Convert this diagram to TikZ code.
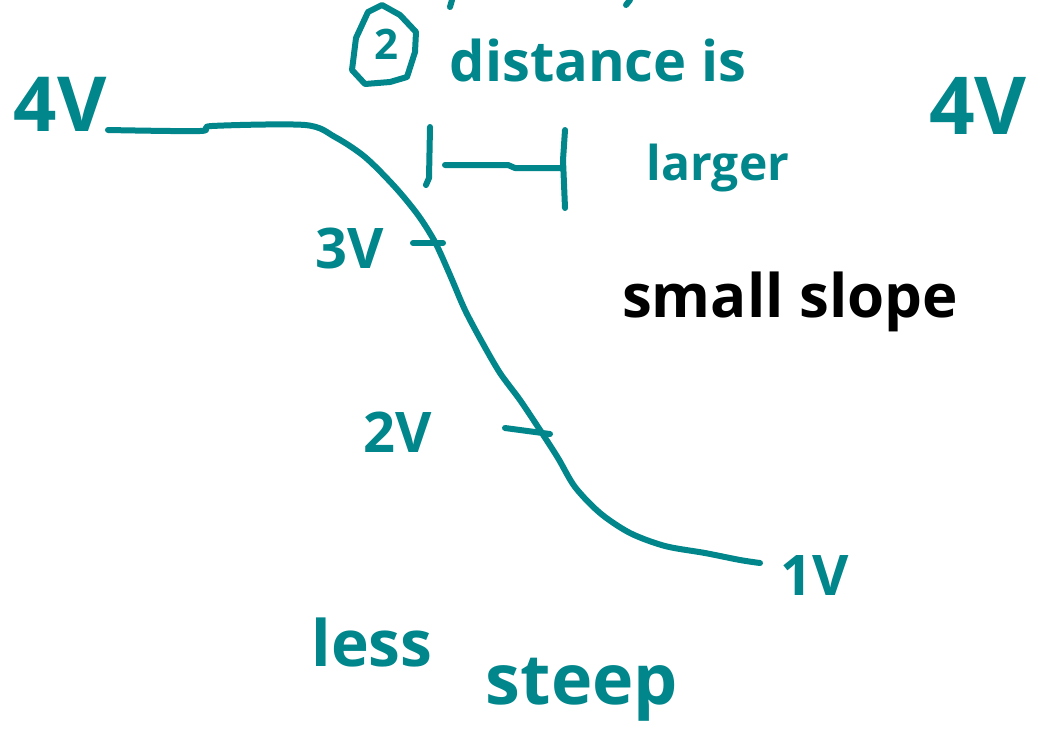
\documentclass[tikz,border=0pt]{standalone}
\usepackage{fontspec}
\setmainfont{Open Sans}
\definecolor{ink}{HTML}{00868B}
\begin{document}
\begin{tikzpicture}[x=1pt,y=-1pt,
  pen/.style={draw=ink,line width=6pt,line cap=round,line join=round},
  lbl/.style={text=ink,inner sep=0pt,anchor=center,font=\bfseries},
  blk/.style={text=black,inner sep=0pt,anchor=center}]
\useasboundingbox[fill=white] (0,0) rectangle (1056,748);
% curve
\draw[pen] plot[smooth,tension=0.5] coordinates {(108,130) (200,131) (212,126) (305,125) (335,137) (365,157) (395,187) (418,215) (435,242) (450,275) (465,310) (482,342) (500,373) (520,400) (540,430) (558,458) (575,487) (600,513) (630,533) (665,546) (705,553) (740,560) (760,563)};
% ticks
\draw[pen] (413,243) -- (443,243);
\draw[pen] (505,428) -- (550,434);
% bracket
\draw[pen] (430,127) -- (429,178) -- (426,185);
\draw[pen] (445,165) -- (508,165) -- (515,168) -- (562,168);
\draw[pen] (565,130) -- (563,160) -- (565,208);
% circled 2
\draw[pen] (382,5) -- (400,15) -- (416,32) -- (415,52) -- (407,77) -- (390,82) -- (365,84) -- (352,70) -- (356,38) -- (368,12) -- cycle;
\node[lbl,font=\bfseries\fontsize{42}{42}\selectfont] (two) at (386,44) {2};
% cut-off marks at top
\draw[pen] (452,0) -- (450,7);
\draw[pen] (630,0) -- (626,5);
% labels
\node[lbl,font=\bfseries\fontsize{76}{76}\selectfont] (v4l) at (60,104) {4V};
\node[lbl,font=\bfseries\fontsize{80}{80}\selectfont] (v4r) at (978,106) {4V};
\node[lbl,font=\bfseries\fontsize{56}{56}\selectfont] (v3) at (350,248) {3V};
\node[lbl,font=\bfseries\fontsize{56}{56}\selectfont] (v2) at (398,432) {2V};
\node[lbl,font=\bfseries\fontsize{56}{56}\selectfont] (v1) at (815,575) {1V};
\node[lbl,font=\bfseries\fontsize{56}{56}\selectfont] (dist) at (598,60) {distance is};
\node[lbl,font=\bfseries\fontsize{48}{48}\selectfont] (larger) at (718,168) {larger};
\node[blk,font=\bfseries\fontsize{60}{60}\selectfont] (small) at (790,302) {small slope};
\node[lbl,font=\bfseries\fontsize{64}{64}\selectfont] (less) at (372,642) {less};
\node[lbl,font=\bfseries\fontsize{70}{70}\selectfont] (steep) at (582,690) {steep};
\end{tikzpicture}
\end{document}
